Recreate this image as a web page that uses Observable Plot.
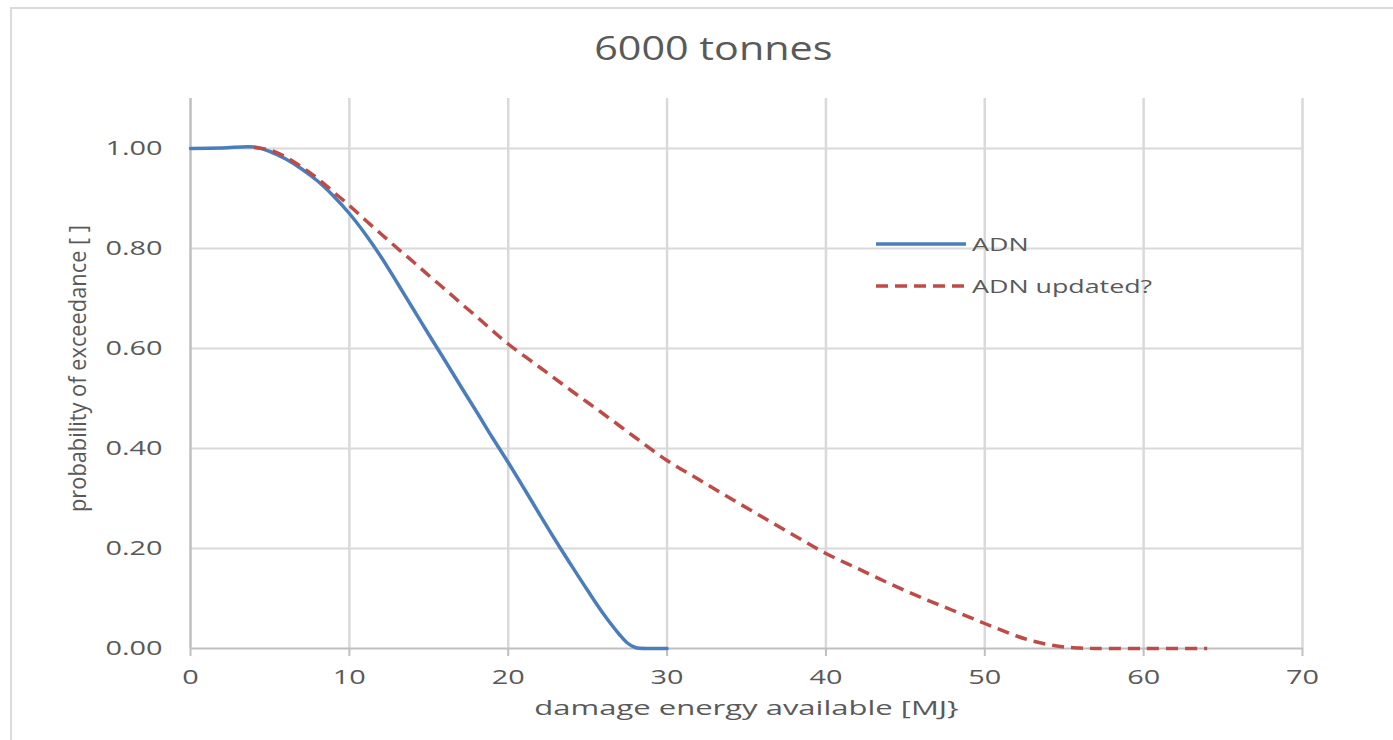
<!DOCTYPE html>
<html>
<head>
<meta charset="utf-8">
<script src="https://cdn.jsdelivr.net/npm/d3@7"></script>
<script src="https://cdn.jsdelivr.net/npm/@observablehq/plot@0.6"></script>
<style>
  html, body { margin: 0; padding: 0; width: 1393px; height: 740px; overflow: hidden; background: #fff; }
  #frame { position: absolute; left: 10px; top: 7px; width: 1400px; height: 800px; box-sizing: border-box;
           border-left: 2px solid #dadada; border-top: 2px solid #dadada; }
  #chart { position: absolute; left: 0; top: 0; width: 1393px; height: 740px; font-family: "Open Sans", sans-serif; }
  #title { height: 72px; padding-top: 8px; padding-left: 34px; line-height: 80px; text-align: center; color: #595959; font-size: 32px; }
  #title span { display: inline-block; transform: scaleX(1.29); transform-origin: center; }
  #legend { position: absolute; left: 875px; top: 228px; color: #595959; font-size: 19px; }
  .row { position: relative; height: 42px; }
  .row svg { position: absolute; left: 0; top: 0; }
  .row span { position: absolute; left: 97px; top: 0; line-height: 32px; display: inline-block;
              transform: scaleX(1.41); transform-origin: left center; white-space: nowrap; }
</style>
</head>
<body>
<div id="frame"></div>
<div id="chart">
  <div id="title"><span>6000 tonnes</span></div>
  <div id="plot"></div>
  <div id="legend"></div>
</div>
<script>
// ---- data ----
const titleText = "6000 tonnes";
const xLabel = "damage energy available [MJ}";
const yLabel = "probability of exceedance [ ]";
const xTicks = [0, 10, 20, 30, 40, 50, 60, 70];
const yTicks = [0, 0.2, 0.4, 0.6, 0.8, 1.0];
const seriesNames = ["ADN", "ADN updated?"];
const seriesColors = ["#4a7ebb", "#be4b48"];

const adnX = [0, 2, 4, 5, 6, 7, 8, 9, 10, 11, 12, 13, 14, 15, 16, 17, 18, 19, 20, 21, 22, 23, 24, 25, 26, 27, 27.5, 28, 29, 30];
const adnY = [1.000, 1.001, 1.003, 0.994, 0.979, 0.959, 0.935, 0.905, 0.870, 0.829, 0.783, 0.732, 0.680, 0.628, 0.577, 0.525, 0.474, 0.422, 0.372, 0.320, 0.267, 0.215, 0.165, 0.116, 0.069, 0.028, 0.011, 0.002, 0.000, 0.000];

const updX = [4, 5, 6, 7, 8, 9, 10, 11, 12, 13, 14, 15, 16, 17, 18, 19, 20, 22, 24, 26, 28, 30, 32, 34, 36, 38, 40, 42, 44, 46, 48, 50, 52, 53, 54, 55, 56, 57, 60, 64];
const updY = [1.002, 0.997, 0.983, 0.963, 0.940, 0.913, 0.886, 0.857, 0.829, 0.801, 0.774, 0.746, 0.719, 0.691, 0.664, 0.636, 0.609, 0.562, 0.515, 0.469, 0.422, 0.376, 0.338, 0.300, 0.263, 0.226, 0.190, 0.160, 0.130, 0.102, 0.076, 0.050, 0.025, 0.015, 0.008, 0.003, 0.001, 0.000, 0.000, 0.000];

const adn = adnX.map((x, i) => ({x, y: adnY[i]}));
const upd = updX.map((x, i) => ({x, y: updY[i]}));

document.querySelector("#title span").textContent = titleText;

const plot = Plot.plot({
  width: 1393,
  height: 660,
  marginTop: 18,
  marginBottom: 92,
  marginLeft: 190,
  marginRight: 91,
  style: {fontFamily: "'Open Sans', sans-serif", color: "#595959", background: "transparent", overflow: "visible"},
  x: {domain: [0, 70]},
  y: {domain: [0, 1.1]},
  marks: [
    Plot.ruleX(xTicks.slice(1), {y1: 0, y2: 1.1, stroke: "#d9d9d9", strokeWidth: 2.5}),
    Plot.ruleY(yTicks.slice(1), {stroke: "#d9d9d9", strokeWidth: 2}),
    Plot.ruleX([0], {y1: 0, y2: 1.1, stroke: "#bfbfbf", strokeWidth: 2.5}),
    Plot.ruleY([0], {stroke: "#bfbfbf", strokeWidth: 2}),
    Plot.axisX({ticks: xTicks, tickSize: 8, tickPadding: 14, stroke: "#bfbfbf", strokeWidth: 2, fill: "#595959",
                fontSize: 19.5, tickFormat: d => String(d), label: null}),
    Plot.axisY({ticks: yTicks, tickSize: 0, tickPadding: 28, fill: "#595959",
                fontSize: 19.5, tickFormat: d3.format(".2f"), label: null}),
    Plot.text([xLabel], {frameAnchor: "bottom", dy: 66, fontSize: 19.5, fill: "#595959"}),
    Plot.text([yLabel], {frameAnchor: "left", rotate: -90, dx: -112, dy: -5, fontSize: 24, fill: "#595959"}),
    Plot.line(adn, {x: "x", y: "y", stroke: seriesColors[0], strokeWidth: 3.5, curve: "catmull-rom"}),
    Plot.line(upd, {x: "x", y: "y", stroke: seriesColors[1], strokeWidth: 3.5, strokeDasharray: "12,7",
                    strokeLinecap: "butt", curve: "catmull-rom"})
  ]
});
document.getElementById("plot").appendChild(plot);

// widen the text the way the reference (a horizontally stretched screenshot) shows it
plot.querySelectorAll("text").forEach(t => {
  const len = t.getComputedTextLength();
  if (!len) return;
  if (t.textContent === yLabel) {
    const L = 287;
    t.setAttribute("text-anchor", "start");
    t.setAttribute("x", (-L / 2).toFixed(1));
    t.setAttribute("textLength", L);
  } else if (t.textContent === xLabel) {
    t.setAttribute("textLength", (len * 1.59).toFixed(1));
  } else {
    t.setAttribute("textLength", (len * 1.48).toFixed(1));
  }
  t.setAttribute("lengthAdjust", "spacingAndGlyphs");
});

// legend
const legend = document.getElementById("legend");
seriesNames.forEach((name, i) => {
  const row = document.createElement("div");
  row.className = "row";
  const dash = i === 1 ? ' stroke-dasharray="12,7"' : '';
  row.innerHTML = `<svg width="92" height="32"><line x1="1" x2="91" y1="16" y2="16" stroke="${seriesColors[i]}" stroke-width="3.5"${dash}/></svg><span></span>`;
  row.querySelector("span").textContent = name;
  legend.appendChild(row);
});
</script>
</body>
</html>
